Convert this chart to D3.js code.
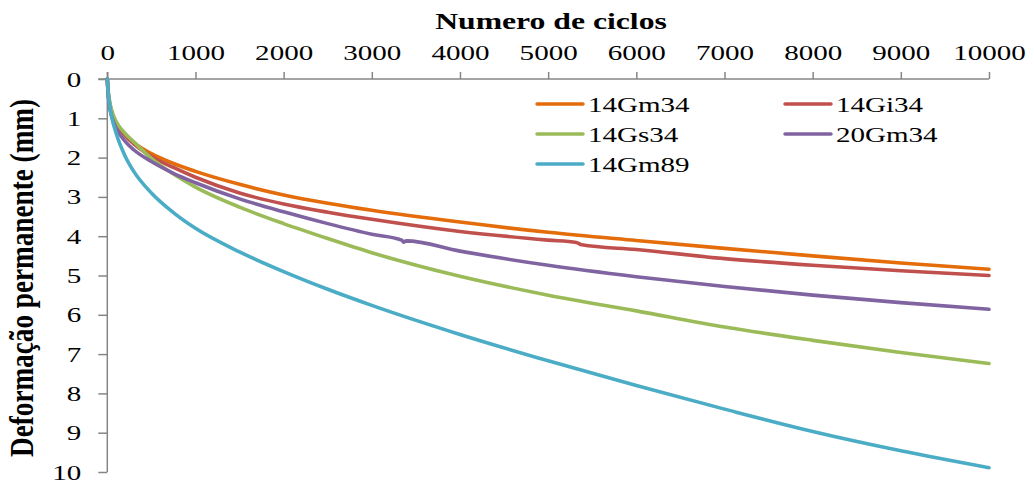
<!DOCTYPE html>
<html>
<head>
<meta charset="utf-8">
<script src="https://cdn.jsdelivr.net/npm/d3@7"></script>
<style>
  body { margin: 0; background: #ffffff; }
  svg { display: block; }
</style>
</head>
<body>
<svg id="chart" width="1034" height="482"></svg>
<script>
// Permanent deformation (mm) versus number of load cycles
const cycles = [0, 10, 25, 50, 100, 200, 300, 500, 750, 1000, 1500, 2000, 2500, 3000, 4000, 5000, 6000, 7000, 8000, 9000, 10000];
const cyclesGi34 = [0, 10, 25, 50, 100, 200, 300, 500, 750, 1000, 1500, 2000, 2500, 3000, 4000, 5000, 5320, 5380, 6000, 7000, 8000, 9000, 10000];
const cycles20Gm34 = [0, 10, 25, 50, 100, 200, 300, 500, 750, 1000, 1500, 2000, 2500, 3000, 3340, 3360, 3390, 4000, 5000, 6000, 7000, 8000, 9000, 10000];

const def14Gm34 = [0, 0.35, 0.6, 0.85, 1.12, 1.42, 1.62, 1.9, 2.15, 2.35, 2.68, 2.95, 3.16, 3.34, 3.64, 3.9, 4.11, 4.31, 4.5, 4.68, 4.84];
const def14Gi34 = [0, 0.35, 0.6, 0.85, 1.12, 1.44, 1.65, 1.97, 2.25, 2.5, 2.9, 3.18, 3.39, 3.57, 3.88, 4.1, 4.16, 4.22, 4.34, 4.57, 4.74, 4.88, 5.0];
const def14Gs34 = [0, 0.3, 0.55, 0.8, 1.08, 1.38, 1.6, 2.02, 2.42, 2.75, 3.26, 3.68, 4.06, 4.42, 5.02, 5.5, 5.9, 6.31, 6.65, 6.96, 7.24];
const def20Gm34 = [0, 0.4, 0.7, 0.95, 1.25, 1.58, 1.8, 2.1, 2.4, 2.64, 3.05, 3.38, 3.68, 3.95, 4.1, 4.15, 4.12, 4.38, 4.74, 5.03, 5.28, 5.5, 5.69, 5.86];
const def14Gm89 = [0, 0.35, 0.65, 0.97, 1.38, 1.95, 2.35, 2.9, 3.4, 3.8, 4.4, 4.9, 5.35, 5.76, 6.5, 7.17, 7.8, 8.4, 8.97, 9.46, 9.89];

const seriesNames = ["14Gm34", "14Gi34", "14Gs34", "20Gm34", "14Gm89"];
const seriesColors = ["#E46C0A", "#C0504D", "#9BBB59", "#8064A2", "#4BACC6"];

const xTicks = [0, 1000, 2000, 3000, 4000, 5000, 6000, 7000, 8000, 9000, 10000];
const yTicks = [0, 1, 2, 3, 4, 5, 6, 7, 8, 9, 10];

const series = [
  { name: seriesNames[0], color: seriesColors[0], x: cycles, y: def14Gm34 },
  { name: seriesNames[1], color: seriesColors[1], x: cyclesGi34, y: def14Gi34 },
  { name: seriesNames[2], color: seriesColors[2], x: cycles, y: def14Gs34 },
  { name: seriesNames[3], color: seriesColors[3], x: cycles20Gm34, y: def20Gm34 },
  { name: seriesNames[4], color: seriesColors[4], x: cycles, y: def14Gm89 }
];

const FONT = "'Liberation Serif', 'Times New Roman', serif";
const SX = 1.32;            // horizontal widening of the lettering
const AXIS_COLOR = "#868686";

const svg = d3.select("#chart");

const x = d3.scaleLinear().domain([0, 10000]).range([107.3, 989]);
const y = d3.scaleLinear().domain([0, 10]).range([79, 472]);

// widen a horizontal text node by SX, keeping its anchor
function widen(sel) {
  sel.each(function () {
    const w = this.getComputedTextLength();
    d3.select(this).attr("textLength", w * SX).attr("lengthAdjust", "spacingAndGlyphs");
  });
}

// X axis along the top
const xAxis = svg.append("g")
  .attr("transform", `translate(0,${y(0)})`)
  .call(d3.axisTop(x).tickValues(xTicks).tickFormat(d3.format("d"))
    .tickSize(7).tickSizeOuter(0).tickPadding(12));
xAxis.select(".domain").attr("stroke", AXIS_COLOR).attr("stroke-width", 1.5)
  .attr("d", `M${x(0) - 9},0H${x(10000)}`);
xAxis.selectAll(".tick line").attr("stroke", AXIS_COLOR).attr("stroke-width", 1.5);
xAxis.selectAll(".tick text")
  .attr("font-family", FONT).attr("font-size", 22).attr("fill", "#000")
  .call(widen);

// Y axis on the left
const yAxis = svg.append("g")
  .attr("transform", `translate(${x(0)},0)`)
  .call(d3.axisLeft(y).tickValues(yTicks).tickFormat(d3.format("d"))
    .tickSize(9).tickSizeOuter(0).tickPadding(17));
yAxis.select(".domain").attr("stroke", AXIS_COLOR).attr("stroke-width", 1.5)
  .attr("d", `M0,${y(0) - 7}V${y(10)}`);
yAxis.selectAll(".tick line").attr("stroke", AXIS_COLOR).attr("stroke-width", 1.5);
yAxis.selectAll(".tick text")
  .attr("font-family", FONT).attr("font-size", 22).attr("fill", "#000")
  .call(widen);

// Axis titles
svg.append("text")
  .attr("x", 551).attr("y", 29)
  .attr("text-anchor", "middle")
  .attr("font-family", FONT).attr("font-size", 24).attr("font-weight", "bold")
  .text("Numero de ciclos")
  .call(widen);

svg.append("text")
  .attr("transform", "translate(33,278) rotate(-90) scale(1,1.3)")
  .attr("text-anchor", "middle")
  .attr("font-family", FONT).attr("font-size", 26).attr("font-weight", "bold")
  .attr("textLength", 358).attr("lengthAdjust", "spacingAndGlyphs")
  .text("Deformação permanente (mm)");

// Curves
const line = d3.line()
  .x(d => x(d[0]))
  .y(d => y(d[1]))
  .curve(d3.curveMonotoneX);

const plot = svg.append("g");
series.forEach(s => {
  plot.append("path")
    .datum(s.x.map((c, i) => [c, s.y[i]]))
    .attr("fill", "none")
    .attr("stroke", s.color)
    .attr("stroke-width", 3.6)
    .attr("stroke-linejoin", "round")
    .attr("stroke-linecap", "round")
    .attr("d", line);
});

// Legend: two columns, three rows
const legendCols = [537, 785];
const legendRows = [104, 134, 164];
const legend = svg.append("g");
series.forEach((s, i) => {
  const lx = legendCols[i % 2];
  const ly = legendRows[Math.floor(i / 2)];
  legend.append("line")
    .attr("x1", lx).attr("x2", lx + 46)
    .attr("y1", ly).attr("y2", ly)
    .attr("stroke", s.color).attr("stroke-width", 3.5)
    .attr("stroke-linecap", "round");
  legend.append("text")
    .attr("x", lx + 51).attr("y", ly + 7.5)
    .attr("font-family", FONT).attr("font-size", 22).attr("fill", "#000")
    .text(s.name)
    .call(widen);
});
</script>
</body>
</html>
